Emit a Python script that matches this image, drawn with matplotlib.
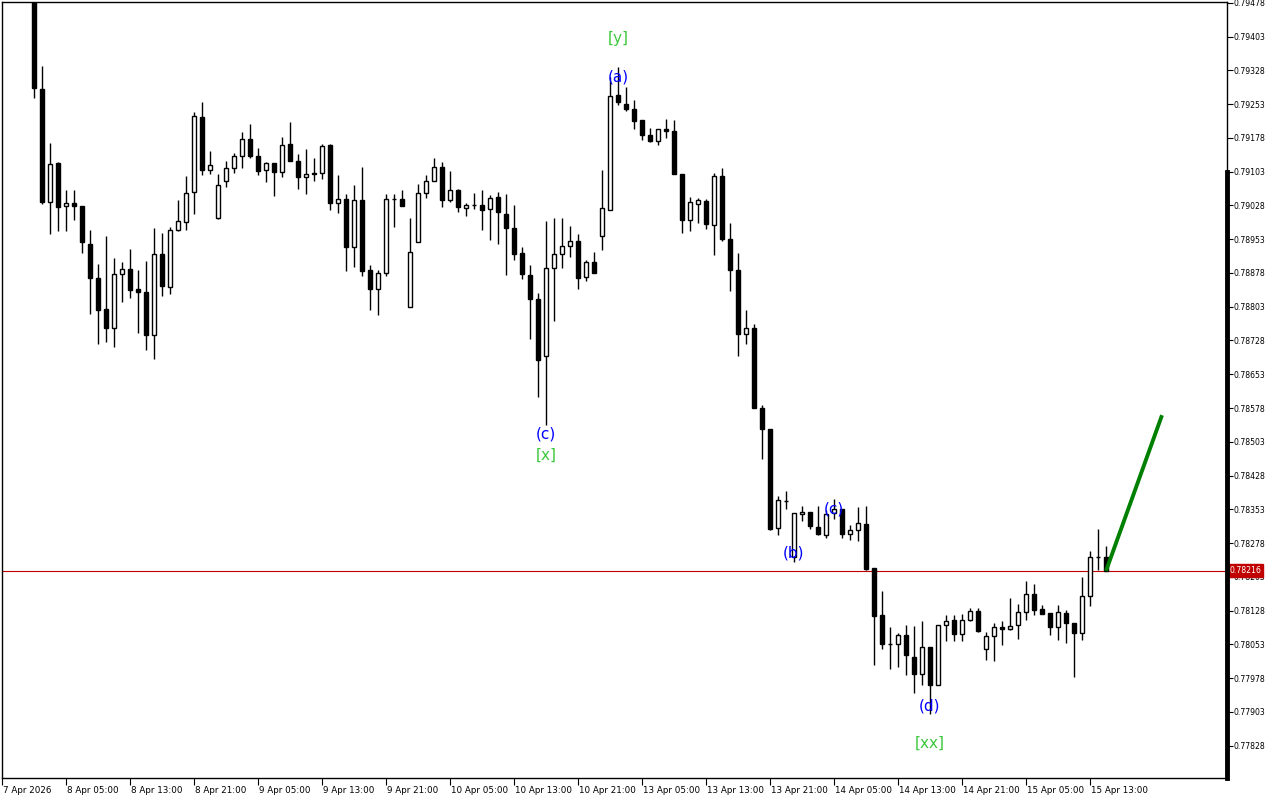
import matplotlib
matplotlib.use("Agg")
import matplotlib.pyplot as plt
import matplotlib.transforms as mtransforms

# Cores
C_BULL = "white"
C_BEAR = "black"
C_EDGE = "black"
C_PRICE = "#c00000"
C_PROJ = "#008000"
C_BLUE = "#0000ff"
C_GREEN = "#3cc83c"

# Candles horários (8 Apr 01:00 -> 15 Apr 15:00)
opens = [0.79486, 0.79287, 0.79036, 0.79122, 0.79027, 0.79034, 0.79027, 0.78942, 0.78867, 0.78798,
         0.78756, 0.78876, 0.78887, 0.78842, 0.78836, 0.78740, 0.78920, 0.78847, 0.78974, 0.78991,
         0.79058, 0.79225, 0.79107, 0.79000, 0.79082, 0.79111, 0.79138, 0.79176, 0.79138, 0.79107,
         0.79122, 0.79102, 0.79165, 0.79127, 0.79091, 0.79100, 0.79100, 0.79162, 0.79034, 0.79042,
         0.78936, 0.79040, 0.78885, 0.78842, 0.78878, 0.79042, 0.79042, 0.78802, 0.78947, 0.79056,
         0.79082, 0.79113, 0.79040, 0.79062, 0.79022, 0.79029, 0.79029, 0.79020, 0.79047, 0.79009,
         0.78978, 0.78922, 0.78874, 0.78820, 0.78694, 0.78889, 0.78920, 0.78938, 0.78949, 0.78869,
         0.78902, 0.78960, 0.79018, 0.79274, 0.79254, 0.79242, 0.79218, 0.79185, 0.79171, 0.79198,
         0.79194, 0.79098, 0.78996, 0.79031, 0.79038, 0.78985, 0.79094, 0.78954, 0.78885, 0.78742,
         0.78756, 0.78578, 0.78531, 0.78311, 0.78371, 0.78247, 0.78342, 0.78347, 0.78313, 0.78296,
         0.78345, 0.78354, 0.78298, 0.78307, 0.78320, 0.78222, 0.78118, 0.78054, 0.78054, 0.78074,
         0.78025, 0.77987, 0.78047, 0.77962, 0.78096, 0.78107, 0.78076, 0.78107, 0.78127, 0.78042,
         0.78071, 0.78091, 0.78087, 0.78096, 0.78125, 0.78165, 0.78131, 0.78122, 0.78091, 0.78122,
         0.78100, 0.78078, 0.78160, 0.78247, 0.78247]
highs = [0.79486, 0.79338, 0.79167, 0.79125, 0.79062, 0.79062, 0.79027, 0.78974, 0.78898, 0.78960,
         0.78911, 0.78902, 0.78931, 0.78885, 0.78905, 0.78978, 0.78967, 0.78980, 0.79040, 0.79094,
         0.79236, 0.79258, 0.79149, 0.79098, 0.79127, 0.79145, 0.79191, 0.79209, 0.79156, 0.79125,
         0.79122, 0.79180, 0.79213, 0.79142, 0.79154, 0.79134, 0.79165, 0.79165, 0.79096, 0.79053,
         0.79074, 0.79113, 0.78896, 0.78885, 0.79053, 0.79053, 0.79062, 0.79000, 0.79076, 0.79096,
         0.79134, 0.79125, 0.79105, 0.79065, 0.79034, 0.79056, 0.79062, 0.79051, 0.79058, 0.79053,
         0.79029, 0.78936, 0.78896, 0.78834, 0.78994, 0.79000, 0.79000, 0.78982, 0.78965, 0.78907,
         0.78925, 0.79107, 0.79314, 0.79336, 0.79291, 0.79262, 0.79218, 0.79200, 0.79198, 0.79220,
         0.79218, 0.79098, 0.79047, 0.79045, 0.79042, 0.79100, 0.79111, 0.78989, 0.78922, 0.78796,
         0.78765, 0.78585, 0.78531, 0.78382, 0.78393, 0.78345, 0.78360, 0.78347, 0.78360, 0.78351,
         0.78376, 0.78354, 0.78318, 0.78358, 0.78360, 0.78222, 0.78171, 0.78091, 0.78078, 0.78096,
         0.78094, 0.78105, 0.78047, 0.78096, 0.78118, 0.78118, 0.78120, 0.78134, 0.78134, 0.78080,
         0.78100, 0.78105, 0.78156, 0.78142, 0.78194, 0.78187, 0.78140, 0.78122, 0.78140, 0.78129,
         0.78100, 0.78202, 0.78260, 0.78309, 0.78271]
lows = [0.79267, 0.79031, 0.78965, 0.78971, 0.78971, 0.78996, 0.78922, 0.78787, 0.78720, 0.78725,
        0.78714, 0.78814, 0.78822, 0.78745, 0.78707, 0.78687, 0.78827, 0.78831, 0.78971, 0.78974,
        0.79009, 0.79096, 0.79098, 0.78998, 0.79069, 0.79100, 0.79111, 0.79134, 0.79096, 0.79080,
        0.79049, 0.79091, 0.79127, 0.79065, 0.79053, 0.79082, 0.79087, 0.79018, 0.79011, 0.78882,
        0.78891, 0.78871, 0.78796, 0.78785, 0.78871, 0.78980, 0.79027, 0.78802, 0.78947, 0.79045,
        0.79082, 0.79025, 0.79036, 0.79014, 0.79005, 0.79020, 0.78974, 0.78951, 0.78942, 0.78874,
        0.78907, 0.78865, 0.78731, 0.78602, 0.78540, 0.78771, 0.78889, 0.78914, 0.78842, 0.78860,
        0.78878, 0.78929, 0.79018, 0.79251, 0.79238, 0.79198, 0.79174, 0.79169, 0.79162, 0.79178,
        0.79098, 0.78967, 0.78971, 0.78989, 0.78976, 0.78918, 0.78949, 0.78838, 0.78694, 0.78720,
        0.78578, 0.78465, 0.78307, 0.78296, 0.78354, 0.78236, 0.78327, 0.78309, 0.78296, 0.78289,
        0.78331, 0.78289, 0.78285, 0.78282, 0.78218, 0.78007, 0.78042, 0.77998, 0.78002, 0.77985,
        0.77945, 0.77962, 0.77898, 0.77962, 0.78060, 0.78060, 0.78060, 0.78105, 0.78080, 0.78018,
        0.78016, 0.78051, 0.78085, 0.78065, 0.78107, 0.78118, 0.78120, 0.78074, 0.78062, 0.78056,
        0.77980, 0.78062, 0.78138, 0.78218, 0.78216]
closes = [0.79289, 0.79036, 0.79120, 0.79025, 0.79034, 0.79027, 0.78947, 0.78867, 0.78796, 0.78756,
          0.78876, 0.78887, 0.78840, 0.78836, 0.78740, 0.78920, 0.78849, 0.78974, 0.78994, 0.79056,
          0.79227, 0.79107, 0.79118, 0.79074, 0.79111, 0.79138, 0.79176, 0.79138, 0.79105, 0.79122,
          0.79102, 0.79162, 0.79127, 0.79091, 0.79098, 0.79098, 0.79160, 0.79034, 0.79042, 0.78936,
          0.79040, 0.78882, 0.78842, 0.78878, 0.79042, 0.79042, 0.79027, 0.78925, 0.79056, 0.79082,
          0.79113, 0.79040, 0.79062, 0.79025, 0.79029, 0.79029, 0.79018, 0.79045, 0.79014, 0.78978,
          0.78920, 0.78876, 0.78820, 0.78685, 0.78889, 0.78920, 0.78938, 0.78949, 0.78867, 0.78902,
          0.78878, 0.79022, 0.79271, 0.79258, 0.79242, 0.79216, 0.79185, 0.79171, 0.79198, 0.79194,
          0.79098, 0.78996, 0.79036, 0.79040, 0.78987, 0.79094, 0.78954, 0.78885, 0.78742, 0.78756,
          0.78578, 0.78531, 0.78309, 0.78374, 0.78371, 0.78345, 0.78347, 0.78316, 0.78298, 0.78342,
          0.78354, 0.78298, 0.78307, 0.78322, 0.78220, 0.78116, 0.78054, 0.78054, 0.78074, 0.78029,
          0.77987, 0.78047, 0.77962, 0.78096, 0.78105, 0.78076, 0.78107, 0.78127, 0.78082, 0.78071,
          0.78091, 0.78087, 0.78094, 0.78125, 0.78165, 0.78129, 0.78120, 0.78091, 0.78125, 0.78100,
          0.78078, 0.78160, 0.78247, 0.78247, 0.78216]

# Eixo de tempo: um rótulo a cada 8 barras (a primeira barra é 8 Apr 01:00)
time_labels = ["7 Apr 2026", "8 Apr 05:00", "8 Apr 13:00", "8 Apr 21:00", "9 Apr 05:00",
               "9 Apr 13:00", "9 Apr 21:00", "10 Apr 05:00", "10 Apr 13:00", "10 Apr 21:00",
               "13 Apr 05:00", "13 Apr 13:00", "13 Apr 21:00", "14 Apr 05:00", "14 Apr 13:00",
               "14 Apr 21:00", "15 Apr 05:00", "15 Apr 13:00"]
first_label_bar = -4

# Eixo de preço
price_top = 0.79478
price_step = 0.00075
n_price_ticks = 23
last_price = 0.78216

# Marcações de ondas (Elliott)
wave_text = ["[y]", "(a)", "(c)", "[x]", "(b)", "(c)", "(d)", "[xx]"]
wave_bar = [73, 73, 64, 64, 95, 100, 112, 112]
wave_price = [0.79398, 0.79313, 0.78520, 0.78474, 0.78256, 0.78354, 0.77916, 0.77834]
wave_color = [C_GREEN, C_BLUE, C_BLUE, C_GREEN, C_BLUE, C_BLUE, C_BLUE, C_GREEN]

# Projeção (linha verde)
proj_bars = 7
proj_target = 0.78562

W, H = 1280, 800
fig = plt.figure(figsize=(W / 100, H / 100), dpi=100)
ax = fig.add_axes([2 / W, 22 / H, 1225 / W, 776 / H])
ax.set_facecolor("white")

n = len(opens)
xs = list(range(n))

# Pavios
ax.vlines(xs, lows, highs, color=C_EDGE, linewidth=1.0, zorder=2)

# Corpos
bottoms = [min(o, c) for o, c in zip(opens, closes)]
heights = [abs(c - o) for o, c in zip(opens, closes)]
fills = [C_BULL if c >= o else C_BEAR for o, c in zip(opens, closes)]
ax.bar(xs, heights, bottom=bottoms, width=0.62, color=fills, edgecolor=C_EDGE,
       linewidth=1.0, zorder=3)

# Linha do preço atual
ax.axhline(last_price, color=C_PRICE, linewidth=0.8, zorder=1)

# Projeção
ax.plot([n - 1, n - 1 + proj_bars], [closes[-1], proj_target], color=C_PROJ,
        linewidth=2.8, solid_capstyle="butt", zorder=4)

# Rótulos das ondas
for t, b, p, c in zip(wave_text, wave_bar, wave_price, wave_color):
    ax.text(b, p, t, color=c, fontsize=11, ha="center", va="center", zorder=5)

# Limites: 8 px por barra, primeira barra em x=34
ax.set_xlim(-4, -4 + 1225 / 8)
ax.set_ylim(0.777558, 0.794802)

# Eixo X
xt = [first_label_bar + 8 * k for k in range(len(time_labels))]
ax.set_xticks(xt)
ax.set_xticklabels(time_labels, fontsize=6.3, ha="left")
ax.tick_params(axis="x", direction="out", length=5, width=0.8, pad=1)
for lbl in ax.get_xticklabels():
    lbl.set_transform(lbl.get_transform() + mtransforms.ScaledTranslation(1 / 100, 0, fig.dpi_scale_trans))

# Eixo Y (à direita)
yt = [price_top - k * price_step for k in range(n_price_ticks)]
ax.yaxis.tick_right()
ax.set_yticks(yt)
ax.set_yticklabels([f"{v:.5f}" for v in yt], fontsize=5.6)
ax.tick_params(axis="y", direction="out", length=4, width=0.8, pad=1)

for s in ax.spines.values():
    s.set_color("black")
    s.set_linewidth(1.0)

# Parte grossa da borda direita
trans = mtransforms.blended_transform_factory(ax.transAxes, ax.transData)
ax.plot([1.0, 1.0], [0.79103, 0.777558], transform=trans, color="black",
        linewidth=3.5, clip_on=False, zorder=6)

# Etiqueta do preço atual
ax.text(1.002, last_price, f"{last_price:.5f}", transform=trans, fontsize=5.6,
        color="white", ha="left", va="center",
        bbox=dict(boxstyle="square,pad=0.25", facecolor=C_PRICE, edgecolor=C_PRICE))

fig.savefig("out.png", dpi=100, facecolor="white")
plt.close(fig)
